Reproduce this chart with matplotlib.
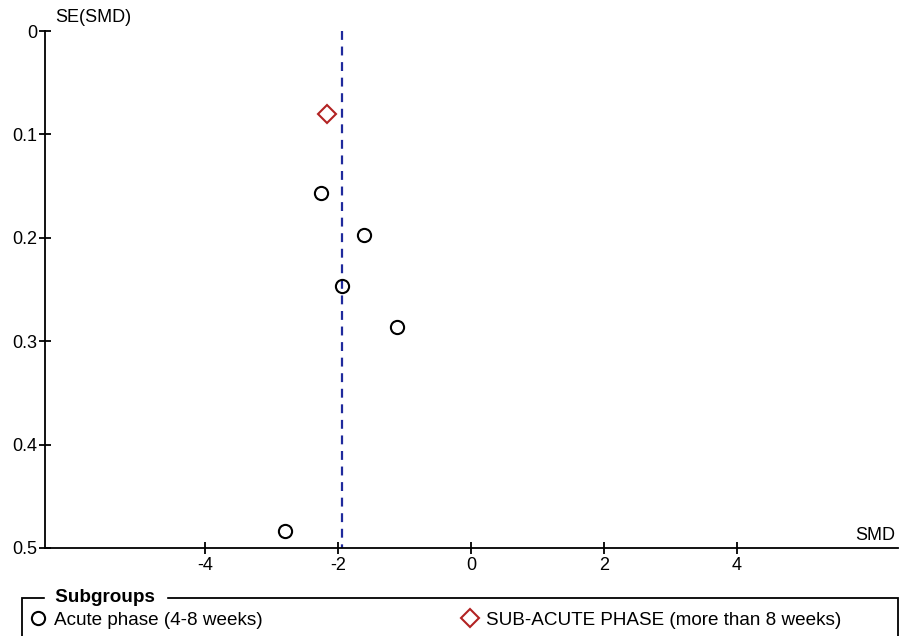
import matplotlib
matplotlib.use("Agg")
import matplotlib.pyplot as plt
from matplotlib.lines import Line2D
from matplotlib.patches import Rectangle

plt.rcParams['font.family'] = ['Liberation Sans', 'DejaVu Sans']

# Données du funnel plot
acute_smd = [-2.245, -1.61, -1.94, -1.11, -2.80]
acute_se = [0.157, 0.197, 0.247, 0.286, 0.484]
subacute_smd = [-2.16]
subacute_se = [0.080]
pooled_smd = -1.93

x_ticks = [-4, -2, 0, 2, 4]
y_ticks = [0, 0.1, 0.2, 0.3, 0.4, 0.5]
y_labels = ['0', '0.1', '0.2', '0.3', '0.4', '0.5']
legend_labels = ['Acute phase (4-8 weeks)', 'SUB-ACUTE PHASE (more than 8 weeks)']

RED = '#B22222'
BLUE = '#1F2A9C'
FS = 13
FS_LEG = 13.6

fig = plt.figure(figsize=(9.02, 6.36), dpi=100)
ax = fig.add_axes([45 / 902, 1 - 548 / 636, (898 - 45) / 902, (548 - 31) / 636])

ax.plot([pooled_smd, pooled_smd], [0, 0.5], color=BLUE, lw=1.6,
        dashes=(4, 3), zorder=1)
ax.plot(acute_smd, acute_se, 'o', ms=9.5, mfc='none', mec='black', mew=1.5,
        zorder=3)
ax.plot(subacute_smd, subacute_se, 'D', ms=9.3, mfc='none', mec=RED, mew=1.5,
        zorder=3)

ax.set_xlim(-6.4, 6.42)
ax.set_ylim(0.5, 0)
ax.set_xticks(x_ticks)
ax.set_xticklabels([str(t) for t in x_ticks])
ax.set_yticks(y_ticks)
ax.set_yticklabels(y_labels)

for s in ['top', 'right']:
    ax.spines[s].set_visible(False)
for s in ['left', 'bottom']:
    ax.spines[s].set_linewidth(1.3)
ax.tick_params(direction='inout', length=9, width=1.3, labelsize=FS, pad=1)
ax.tick_params(axis='x', pad=2)

ax.text(55 / 902, 1 - 18 / 636, 'SE(SMD)', transform=fig.transFigure,
        ha='left', va='center', fontsize=FS)
ax.text(895 / 902, 1 - 536 / 636, 'SMD', transform=fig.transFigure,
        ha='right', va='center', fontsize=FS)

# Cadre de la légende
box = Rectangle((22 / 902, -0.05), (898 - 22) / 902, 0.05 + (1 - 598 / 636),
                transform=fig.transFigure, fill=False, lw=1.3,
                edgecolor='black', clip_on=False)
fig.patches.append(box)
fig.text(50 / 902, 1 - 598 / 636, ' Subgroups ', ha='left', va='center',
         fontsize=FS_LEG, fontweight='bold', backgroundcolor='white')

h1 = Line2D([], [], ls='none', marker='o', ms=9.5, mfc='none', mec='black',
            mew=1.5)
h2 = Line2D([], [], ls='none', marker='D', ms=9.3, mfc='none', mec=RED,
            mew=1.5)
fig.legend([h1], [legend_labels[0]], loc='center left',
           bbox_to_anchor=(29 / 902, 1 - 620 / 636), frameon=False,
           fontsize=FS_LEG, handlelength=1.0, handletextpad=0.35,
           borderpad=0, borderaxespad=0)
fig.legend([h2], [legend_labels[1]], loc='center left',
           bbox_to_anchor=(461 / 902, 1 - 620 / 636), frameon=False,
           fontsize=FS_LEG, handlelength=1.0, handletextpad=0.35,
           borderpad=0, borderaxespad=0)

fig.savefig('out.png', dpi=100)
